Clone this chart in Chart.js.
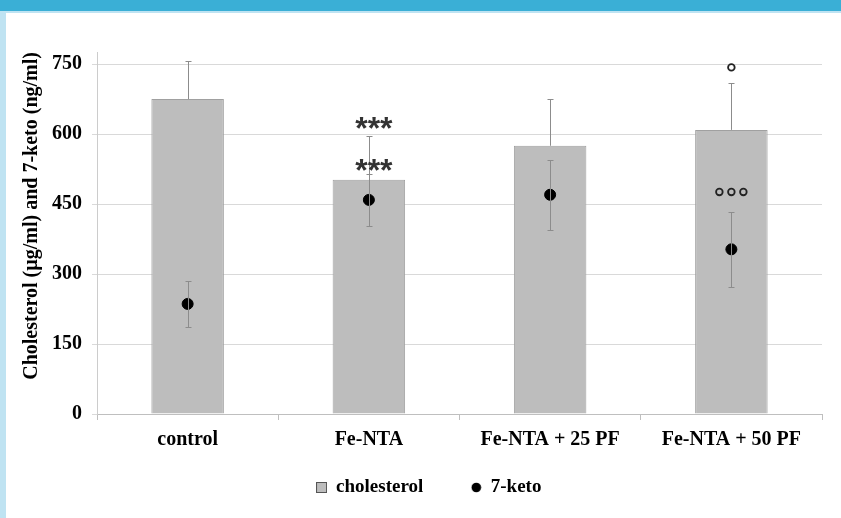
<!DOCTYPE html>
<html>
<head>
<meta charset="utf-8">
<script src="https://cdn.jsdelivr.net/npm/chart.js@4.4.1/dist/chart.umd.min.js"></script>
<style>
  html, body { margin: 0; padding: 0; background: #fff; }
  #frame { position: relative; width: 841px; height: 518px; overflow: hidden; background: #fff; }
  #topbar { position: absolute; left: 0; top: 0; width: 841px; height: 11px; background: #3aafd6; }
  #topline { position: absolute; left: 0; top: 11px; width: 841px; height: 2px; background: #bfe3f2; }
  #leftbar { position: absolute; left: 0; top: 11px; width: 6px; height: 507px; background: #bfe3f2; }
  #chart { position: absolute; left: 0; top: 0; }
</style>
</head>
<body>
<div id="frame">
  <div id="topbar"></div>
  <div id="topline"></div>
  <div id="leftbar"></div>
  <canvas id="chart" width="841" height="518"></canvas>
</div>
<script>
// data
const groups = ['control', 'Fe-NTA', 'Fe-NTA + 25 PF', 'Fe-NTA + 50 PF'];
const cholesterol = [675, 502, 575, 609];
const cholesterolSd = [82, 95, 100, 100];
const keto = [236, 459, 470, 353];
const ketoSd = [50, 55, 75, 80];
const yTicks = [0, 150, 300, 450, 600, 750];

// significance marks: group index, value (visual centre), text
const starMarks = [
  { group: 1, value: 629, text: '***' },
  { group: 1, value: 539, text: '***' }
];
const ringMarks = [
  { group: 3, value: 743, count: 1 },
  { group: 3, value: 476, count: 3 }
];

const serif = '"Liberation Serif", "Times New Roman", serif';

// small legend symbols
function legendSymbol(kind) {
  const c = document.createElement('canvas');
  c.width = 11; c.height = 11;
  const g = c.getContext('2d');
  if (kind === 'box') {
    g.fillStyle = '#bdbdbd';
    g.fillRect(0.5, 0.5, 10, 10);
    g.strokeStyle = '#555';
    g.lineWidth = 1;
    g.strokeRect(0.5, 0.5, 10, 10);
  } else {
    g.fillStyle = '#000';
    g.beginPath();
    g.arc(5.5, 5.5, 4.8, 0, Math.PI * 2);
    g.fill();
  }
  return c;
}
const legendIcons = [legendSymbol('box'), legendSymbol('dot')];

// error bars + significance marks
const errorBarPlugin = {
  id: 'errorBars',
  afterLayout(chart) {
    // pull the legend up closer to the category labels
    const lg = chart.legend;
    if (lg) {
      const h = lg.bottom - lg.top;
      lg.top = chart.chartArea.bottom + 16;
      lg.bottom = lg.top + h;
      lg.left += 8;
      lg.right += 8;
    }
  },
  afterDatasetsDraw(chart) {
    const ctx = chart.ctx;
    const x = chart.scales.x;
    const y = chart.scales.y;
    ctx.save();
    ctx.strokeStyle = '#8c8c8c';
    ctx.lineWidth = 1;
    const cap = 3;
    // cholesterol: upper only
    cholesterol.forEach((v, i) => {
      const px = Math.round(x.getPixelForValue(i)) + 0.5;
      const y0 = y.getPixelForValue(v);
      const y1 = Math.round(y.getPixelForValue(v + cholesterolSd[i])) + 0.5;
      ctx.beginPath();
      ctx.moveTo(px, y0); ctx.lineTo(px, y1);
      ctx.moveTo(px - cap, y1); ctx.lineTo(px + cap, y1);
      ctx.stroke();
    });
    // 7-keto: both sides
    keto.forEach((v, i) => {
      const px = Math.round(x.getPixelForValue(i)) + 0.5;
      const yt = Math.round(y.getPixelForValue(v + ketoSd[i])) + 0.5;
      const yb = Math.round(y.getPixelForValue(v - ketoSd[i])) + 0.5;
      ctx.beginPath();
      ctx.moveTo(px, yt); ctx.lineTo(px, yb);
      ctx.moveTo(px - cap, yt); ctx.lineTo(px + cap, yt);
      ctx.moveTo(px - cap, yb); ctx.lineTo(px + cap, yb);
      ctx.stroke();
    });
    ctx.restore();
  },
  afterDraw(chart) {
    const ctx = chart.ctx;
    const x = chart.scales.x;
    const y = chart.scales.y;
    ctx.save();
    ctx.fillStyle = '#333';
    const size = 32;
    ctx.font = 'bold ' + size + 'px "Liberation Sans", Arial, sans-serif';
    ctx.textAlign = 'center';
    ctx.textBaseline = 'alphabetic';
    starMarks.forEach(m => {
      ctx.fillText(m.text, x.getPixelForValue(m.group) + 5, y.getPixelForValue(m.value) + size * 0.58);
    });
    ctx.strokeStyle = '#222';
    ctx.lineWidth = 1.8;
    ringMarks.forEach(m => {
      const cx = x.getPixelForValue(m.group);
      const cy = y.getPixelForValue(m.value);
      const gap = 12;
      for (let k = 0; k < m.count; k++) {
        const ox = cx + (k - (m.count - 1) / 2) * gap;
        ctx.beginPath();
        ctx.arc(ox, cy, 3.3, 0, Math.PI * 2);
        ctx.stroke();
      }
    });
    ctx.restore();
  }
};

new Chart(document.getElementById('chart'), {
  data: {
    labels: groups,
    datasets: [
      {
        type: 'bar',
        label: 'cholesterol',
        data: cholesterol,
        backgroundColor: '#bdbdbd',
        borderColor: '#a0a0a0',
        borderWidth: 1,
        barPercentage: 0.4,
        categoryPercentage: 1,
        order: 2
      },
      {
        type: 'line',
        label: '7-keto',
        data: keto,
        showLine: false,
        pointRadius: 5.5,
        pointBackgroundColor: '#000',
        pointBorderColor: '#000',
        backgroundColor: '#000',
        borderColor: '#000',
        order: 1
      }
    ]
  },
  options: {
    responsive: false,
    animation: false,
    layout: { padding: { left: 20, right: 19, top: 52, bottom: 0 } },
    plugins: {
      tooltip: { enabled: false },
      legend: {
        position: 'bottom',
        maxHeight: 66,
        labels: {
          usePointStyle: true,
          boxWidth: 10,
          boxHeight: 10,
          padding: 48,
          color: '#000',
          font: { family: serif, size: 19, weight: 'bold' },
          generateLabels(chart) {
            return chart.data.datasets.map((ds, i) => ({
              text: ds.label,
              fillStyle: '#000',
              strokeStyle: '#000',
              lineWidth: 0,
              pointStyle: legendIcons[i],
              datasetIndex: i,
              fontColor: '#000'
            }));
          }
        }
      }
    },
    scales: {
      x: {
        offset: true,
        grid: {
          offset: true,
          drawOnChartArea: false,
          drawTicks: true,
          tickLength: 6,
          color: '#bfbfbf'
        },
        border: { color: '#bfbfbf' },
        ticks: {
          color: '#000',
          padding: 8,
          maxRotation: 0,
          autoSkip: false,
          font: { family: serif, size: 20, weight: 'bold' }
        },
        afterFit(scale) { scale.height = 38; }
      },
      y: {
        min: 0,
        max: 776,
        afterBuildTicks(axis) { axis.ticks = yTicks.map(v => ({ value: v })); },
        grid: { color: '#d9d9d9', tickLength: 5 },
        border: { color: '#cccccc' },
        ticks: {
          color: '#000',
          padding: 10,
          font: { family: serif, size: 20, weight: 'bold' }
        },
        title: {
          display: true,
          align: 'end',
          text: 'Cholesterol (\u00b5g/ml) and 7-keto (ng/ml)',
          color: '#000',
          font: { family: serif, size: 20, weight: 'bold' },
          padding: { top: 0, bottom: 0 }
        },
        afterFit(scale) { scale.width = 77; }
      }
    }
  },
  plugins: [errorBarPlugin]
});
</script>
</body>
</html>
